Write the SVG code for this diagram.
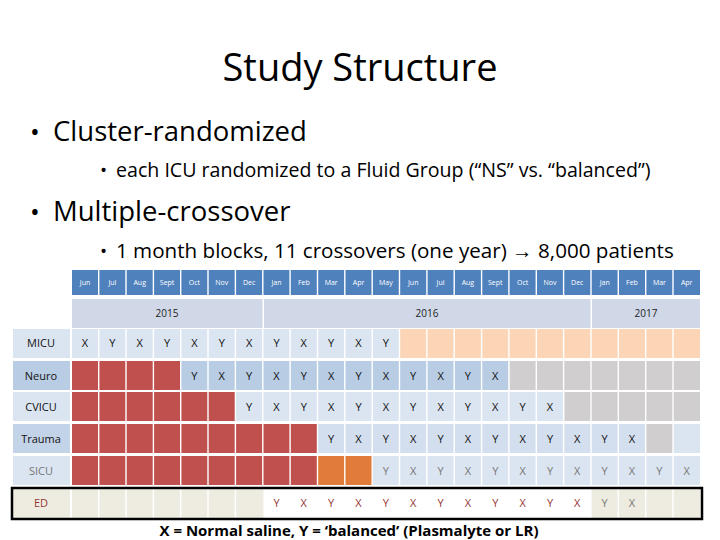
<svg xmlns="http://www.w3.org/2000/svg" width="720" height="540" viewBox="0 0 720 540">
<style>
text{font-family:"Open Sans","Liberation Sans",sans-serif}
.m{font-size:7px;fill:#fff;text-anchor:middle}
.y{font-size:10px;fill:#222;text-anchor:middle}
.l{font-size:11px;fill:#111;text-anchor:middle}
.c{font-size:11px;fill:#111;text-anchor:middle}
.g{fill:#777}
.r{fill:#953735}
</style>
<rect width="720" height="540" fill="#fff"/>
<text x="360" y="81" font-size="38" text-anchor="middle" fill="#000">Study Structure</text>
<text x="30" y="141" font-size="26" fill="#000">•</text>
<text x="53" y="141" font-size="27.5" fill="#000">Cluster-randomized</text>
<text x="100" y="177" font-size="19" fill="#000">•</text>
<text x="116" y="177" font-size="19.6" fill="#000">each ICU randomized to a Fluid Group (“NS” vs. “balanced”)</text>
<text x="30" y="221" font-size="26" fill="#000">•</text>
<text x="53" y="221" font-size="27.5" fill="#000">Multiple-crossover</text>
<text x="100" y="258" font-size="19" fill="#000">•</text>
<text x="116" y="258" font-size="20.6" fill="#000">1 month blocks, 11 crossovers (one year) → 8,000 patients</text>
<g id="table">
<rect x="72" y="270" width="628" height="25" fill="#4f81bd"/>
<rect x="72" y="299" width="190.5" height="29" fill="#d0d8e8"/>
<rect x="264" y="299" width="326.5" height="29" fill="#d0d8e8"/>
<rect x="592" y="299" width="108" height="29" fill="#d0d8e8"/>
<g id="MICU"><rect x="13" y="329" width="57" height="29" fill="#dbe5f1"/><rect x="72" y="329" width="328" height="29" fill="#dbe5f1"/><rect x="400" y="329" width="300" height="29" fill="#fbd5b5"/></g>
<g id="Neuro"><rect x="13" y="361" width="57" height="29" fill="#b8cce4"/><rect x="72" y="361" width="109" height="29" fill="#c0504d"/><rect x="181" y="361" width="328.6" height="29" fill="#b8cce4"/><rect x="509.6" y="361" width="190.4" height="29" fill="#d0cece"/></g>
<g id="CVICU"><rect x="13" y="392" width="57" height="29" fill="#dbe5f1"/><rect x="72" y="392" width="164" height="29" fill="#c0504d"/><rect x="236" y="392" width="328.3" height="29" fill="#dbe5f1"/><rect x="564.3" y="392" width="135.7" height="29" fill="#d0cece"/></g>
<g id="Trauma"><rect x="13" y="424" width="57" height="29" fill="#c3d3e8"/><rect x="72" y="424" width="246" height="29" fill="#c0504d"/><rect x="318" y="424" width="328" height="29" fill="#d3dfee"/><rect x="646" y="424" width="27.5" height="29" fill="#d0cece"/><rect x="673.5" y="424" width="26.5" height="29" fill="#dbe5f1"/></g>
<g id="SICU"><rect x="13" y="456" width="57" height="29" fill="#dbe5f1"/><rect x="72" y="456" width="246" height="29" fill="#c0504d"/><rect x="318" y="456" width="54.8" height="29" fill="#e07b39"/><rect x="372.8" y="456" width="327.2" height="29" fill="#dbe5f1"/></g>
<g id="ED"><rect x="13" y="489" width="57" height="29" fill="#eeece1"/><rect x="72" y="489" width="191.4" height="29" fill="#eeece1"/><rect x="591.6" y="489" width="108.4" height="29" fill="#eeece1"/></g>
<g stroke="#fff" stroke-width="1.4">
<path d="M98.7 270V295M126 270V295M153.4 270V295M180.7 270V295M208 270V295M235.4 270V295M262.8 270V295M290.1 270V295M317.5 270V295M344.8 270V295M372.2 270V295M399.5 270V295M426.9 270V295M454.2 270V295M481.6 270V295M508.9 270V295M536.3 270V295M563.6 270V295M591 270V295M618.3 270V295M645.7 270V295M673 270V295"/>
<path d="M98.7 329V488M126 329V488M153.4 329V488M180.7 329V488M208 329V488M235.4 329V488M262.8 329V488M290.1 329V488M317.5 329V488M344.8 329V488M372.2 329V488M399.5 329V488M426.9 329V488M454.2 329V488M481.6 329V488M508.9 329V488M536.3 329V488M563.6 329V488M591 329V488M618.3 329V488M645.7 329V488M673 329V488"/>
<path d="M98.7 489V518M126 489V518M153.4 489V518M180.7 489V518M208 489V518M235.4 489V518M618.3 489V518M645.7 489V518M673 489V518"/>
</g>
<rect x="12" y="488" width="690" height="31" fill="none" stroke="#000" stroke-width="2.5"/>
<g class="m">
<text x="85" y="285">Jun</text><text x="112.4" y="285">Jul</text><text x="139.7" y="285">Aug</text><text x="167.1" y="285">Sept</text><text x="194.4" y="285">Oct</text><text x="221.8" y="285">Nov</text><text x="249.1" y="285">Dec</text><text x="276.5" y="285">Jan</text><text x="303.8" y="285">Feb</text><text x="331.2" y="285">Mar</text><text x="358.5" y="285">Apr</text><text x="385.9" y="285">May</text><text x="413.2" y="285">Jun</text><text x="440.6" y="285">Jul</text><text x="467.9" y="285">Aug</text><text x="495.3" y="285">Sept</text><text x="522.6" y="285">Oct</text><text x="550" y="285">Nov</text><text x="577.3" y="285">Dec</text><text x="604.7" y="285">Jan</text><text x="632" y="285">Feb</text><text x="659.4" y="285">Mar</text><text x="686.7" y="285">Apr</text>
</g>
<g class="y"><text x="167" y="317">2015</text><text x="427" y="317">2016</text><text x="646" y="317">2017</text></g>
<g class="l"><text x="41" y="347">MICU</text><text x="41" y="380">Neuro</text><text x="41" y="411">CVICU</text><text x="41" y="443">Trauma</text><text x="41" y="475" fill="#777">SICU</text><text x="41" y="507" fill="#953735">ED</text></g>
<g class="c">
<text x="85" y="347">X</text><text x="112.4" y="347">Y</text><text x="139.7" y="347">X</text><text x="167.1" y="347">Y</text><text x="194.4" y="347">X</text><text x="221.8" y="347">Y</text><text x="249.1" y="347">X</text><text x="276.5" y="347">Y</text><text x="303.8" y="347">X</text><text x="331.2" y="347">Y</text><text x="358.5" y="347">X</text><text x="385.9" y="347">Y</text>
<text x="194.4" y="380">Y</text><text x="221.8" y="380">X</text><text x="249.1" y="380">Y</text><text x="276.5" y="380">X</text><text x="303.8" y="380">Y</text><text x="331.2" y="380">X</text><text x="358.5" y="380">Y</text><text x="385.9" y="380">X</text><text x="413.2" y="380">Y</text><text x="440.6" y="380">X</text><text x="467.9" y="380">Y</text><text x="495.3" y="380">X</text>
<text x="249.1" y="411">Y</text><text x="276.5" y="411">X</text><text x="303.8" y="411">Y</text><text x="331.2" y="411">X</text><text x="358.5" y="411">Y</text><text x="385.9" y="411">X</text><text x="413.2" y="411">Y</text><text x="440.6" y="411">X</text><text x="467.9" y="411">Y</text><text x="495.3" y="411">X</text><text x="522.6" y="411">Y</text><text x="550" y="411">X</text>
<text x="331.2" y="443">Y</text><text x="358.5" y="443">X</text><text x="385.9" y="443">Y</text><text x="413.2" y="443">X</text><text x="440.6" y="443">Y</text><text x="467.9" y="443">X</text><text x="495.3" y="443">Y</text><text x="522.6" y="443">X</text><text x="550" y="443">Y</text><text x="577.3" y="443">X</text><text x="604.7" y="443">Y</text><text x="632" y="443">X</text>
</g>
<g class="c g">
<text x="385.9" y="475">Y</text><text x="413.2" y="475">X</text><text x="440.6" y="475">Y</text><text x="467.9" y="475">X</text><text x="495.3" y="475">Y</text><text x="522.6" y="475">X</text><text x="550" y="475">Y</text><text x="577.3" y="475">X</text><text x="604.7" y="475">Y</text><text x="632" y="475">X</text><text x="659.4" y="475">Y</text><text x="686.7" y="475">X</text>
<text x="604.7" y="507">Y</text><text x="632" y="507">X</text>
</g>
<g class="c r">
<text x="276.5" y="507">Y</text><text x="303.8" y="507">X</text><text x="331.2" y="507">Y</text><text x="358.5" y="507">X</text><text x="385.9" y="507">Y</text><text x="413.2" y="507">X</text><text x="440.6" y="507">Y</text><text x="467.9" y="507">X</text><text x="495.3" y="507">Y</text><text x="522.6" y="507">X</text><text x="550" y="507">Y</text><text x="577.3" y="507">X</text>
</g>
</g>
<text x="349" y="536" font-size="15" font-weight="bold" text-anchor="middle" fill="#000">X = Normal saline, Y = ‘balanced’ (Plasmalyte or LR)</text>
</svg>
